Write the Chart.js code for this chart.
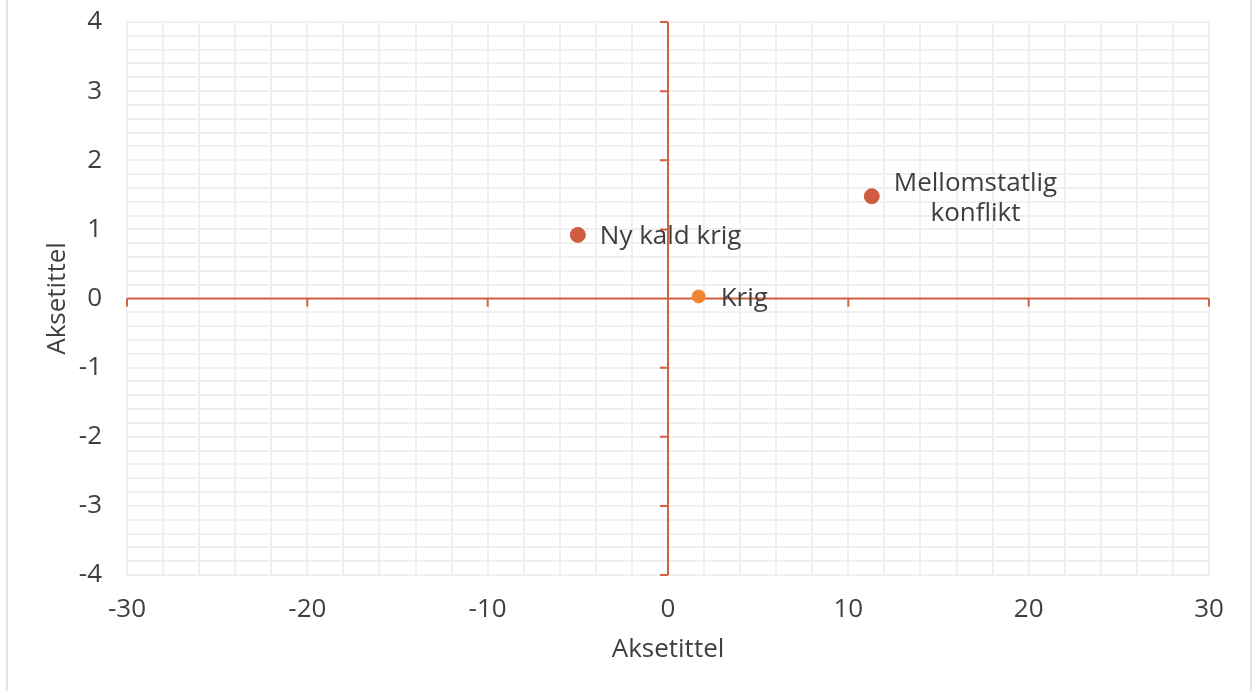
<!DOCTYPE html>
<html>
<head>
<meta charset="utf-8">
<script src="https://cdn.jsdelivr.net/npm/chart.js@4.4.1/dist/chart.umd.min.js"></script>
<style>
  html, body { margin: 0; padding: 0; background: #fff; }
  #wrap { position: relative; width: 1252px; height: 691px; }
  .edge { position: absolute; top: 0; width: 2px; height: 691px; background: #e4e4e4; }
</style>
</head>
<body>
<div id="wrap">
  <canvas id="chart"></canvas>
  <div class="edge" style="left:6px"></div>
  <div class="edge" style="left:1250px"></div>
</div>
<script>
// points
const pointNames = [['Ny kald krig'], ['Krig'], ['Mellomstatlig', 'konflikt']];
const xValues = [-5.0, 1.7, 11.3];
const yValues = [0.92, 0.03, 1.48];
const pointColors = ['#cf5c40', '#f0862f', '#cf5c40'];
const pointSizes = [7.5, 6.5, 7.5];

// axes
const xMin = -30, xMax = 30, xGridStep = 2;
const yMin = -4, yMax = 4, yGridStep = 0.2;
const xMajorTicks = [-30, -20, -10, 0, 10, 20, 30];
const yMajorTicks = [-4, -3, -2, -1, 0, 1, 2, 3, 4];

const axisColor = '#d3603f';
const textColor = '#3f3f3f';
const fontFamily = '"Open Sans", sans-serif';
const fontSize = 26;

// orange axis lines through zero, with their tick marks
const crossAxes = {
    id: 'crossAxes',
    beforeDatasetsDraw(chart) {
        const { ctx, chartArea: a, scales: { x, y } } = chart;
        const x0 = x.getPixelForValue(0);
        const y0 = y.getPixelForValue(0);
        ctx.save();
        ctx.strokeStyle = axisColor;
        ctx.lineWidth = 2;
        ctx.beginPath();
        ctx.moveTo(a.left, y0); ctx.lineTo(a.right, y0);
        ctx.moveTo(x0, a.top); ctx.lineTo(x0, a.bottom);
        xMajorTicks.forEach(v => {
            const px = x.getPixelForValue(v);
            ctx.moveTo(px, y0); ctx.lineTo(px, y0 + 8);
        });
        yMajorTicks.forEach(v => {
            const py = y.getPixelForValue(v);
            ctx.moveTo(x0, py); ctx.lineTo(x0 - 8, py);
        });
        ctx.stroke();
        ctx.restore();
    }
};

// text next to each point
const pointLabels = {
    id: 'pointLabels',
    afterDatasetsDraw(chart) {
        const ctx = chart.ctx;
        ctx.save();
        ctx.font = fontSize + 'px ' + fontFamily;
        ctx.fillStyle = textColor;
        ctx.textBaseline = 'middle';
        chart.data.datasets.forEach((ds, i) => {
            const el = chart.getDatasetMeta(i).data[0];
            const lines = pointNames[i];
            const lh = 30;
            const w = Math.max(...lines.map(l => ctx.measureText(l).width));
            const left = el.x + 22;
            const top = el.y + 2 - (lines.length - 1) * lh / 2;
            lines.forEach((l, k) => {
                const lw = ctx.measureText(l).width;
                ctx.fillText(l, left + (w - lw) / 2, top + k * lh);
            });
        });
        ctx.restore();
    }
};

const isWhole = v => Math.abs(v - Math.round(v)) < 1e-6;

new Chart(document.getElementById('chart'), {
    type: 'scatter',
    data: {
        datasets: pointNames.map((n, i) => ({
            label: n.join(' '),
            data: [{ x: xValues[i], y: yValues[i] }],
            backgroundColor: pointColors[i],
            borderColor: pointColors[i],
            pointRadius: pointSizes[i],
            pointHoverRadius: pointSizes[i]
        }))
    },
    options: {
        responsive: true,
        maintainAspectRatio: false,
        animation: false,
        layout: { padding: { top: 22, right: 43, left: 0, bottom: 0 } },
        plugins: { legend: { display: false }, tooltip: { enabled: false } },
        scales: {
            x: {
                type: 'linear',
                min: xMin, max: xMax,
                afterFit: s => { s.height = 116; },
                grid: { color: '#f0f0f0', lineWidth: 2, drawTicks: false },
                border: { display: false },
                ticks: {
                    stepSize: xGridStep,
                    autoSkip: false,
                    maxRotation: 0,
                    padding: 19,
                    color: textColor,
                    font: { family: fontFamily, size: fontSize },
                    callback: v => (v % 10 === 0 ? v : '')
                },
                title: {
                    display: true,
                    text: 'Aksetittel',
                    color: textColor,
                    font: { family: fontFamily, size: fontSize },
                    padding: { top: 26, bottom: 26 }
                }
            },
            y: {
                type: 'linear',
                min: yMin, max: yMax,
                afterFit: s => { s.width = 127; s.paddingTop = 0; s.paddingBottom = 0; },
                grid: { color: '#f0f0f0', lineWidth: 2, drawTicks: false },
                border: { display: false },
                ticks: {
                    stepSize: yGridStep,
                    autoSkip: false,
                    padding: 25,
                    color: textColor,
                    font: { family: fontFamily, size: fontSize },
                    callback: v => (isWhole(v) ? Math.round(v) : '')
                },
                title: {
                    display: true,
                    text: 'Aksetittel',
                    color: textColor,
                    font: { family: fontFamily, size: fontSize },
                    padding: { top: 42, bottom: 42 }
                }
            }
        }
    },
    plugins: [crossAxes, pointLabels]
});
</script>
</body>
</html>
